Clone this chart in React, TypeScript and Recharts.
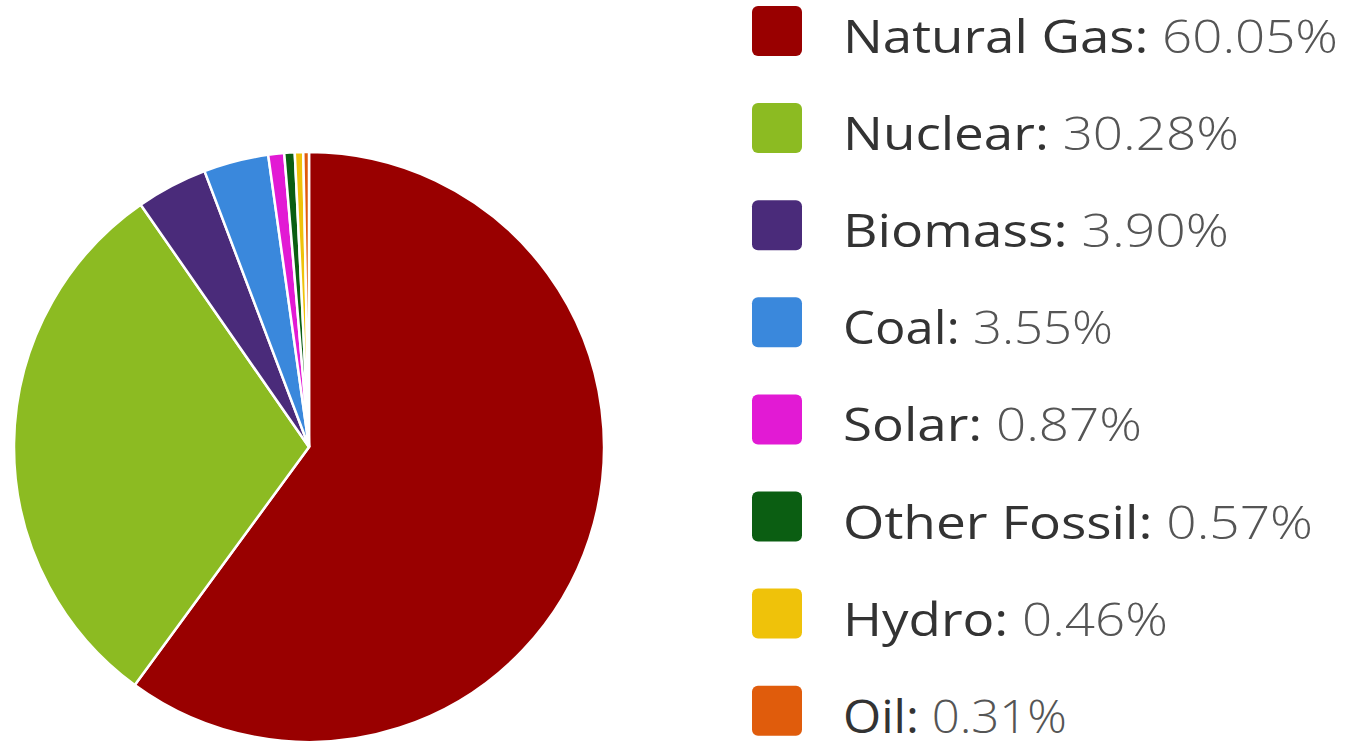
import React from "react";
import { PieChart, Pie, Cell, Legend } from "recharts";

const categories = ["Natural Gas", "Nuclear", "Biomass", "Coal", "Solar", "Other Fossil", "Hydro", "Oil"];
const shares = [60.05, 30.28, 3.9, 3.55, 0.87, 0.57, 0.46, 0.31];
const colors = ["#990000", "#8cbb22", "#4a2b7a", "#3a88dc", "#e21ad4", "#0b5e12", "#efc20a", "#e05c0c"];
const legendWidths = [495, 396, 386, 270, 299, 470, 325, 224];

const data = categories.map((name, i) => ({ name, value: shares[i] }));

const ROW_GAP = 97.1;
const FIRST_BASELINE = 53;

const LegendContent = () => (
  <svg width={610} height={745} style={{ display: "block" }}>
    {categories.map((name, i) => {
      const baseline = FIRST_BASELINE + i * ROW_GAP;
      return (
        <g key={name}>
          <rect x={12} y={baseline - 47} width={50} height={50} rx={6} ry={6} fill={colors[i]} />
          <text
            x={103}
            y={baseline}
            fontFamily="'Open Sans', sans-serif"
            fontSize={46}
            textLength={legendWidths[i]}
            lengthAdjust="spacingAndGlyphs"
          >
            <tspan fill="#333333" fontWeight={500}>{name}:</tspan>
            <tspan fill="#555555" fontWeight={300}>{" " + shares[i].toFixed(2) + "%"}</tspan>
          </text>
        </g>
      );
    })}
  </svg>
);

export default function App() {
  return (
    <div style={{ position: "absolute", left: 0, top: 0, width: 1350, height: 745, background: "#ffffff" }}>
      <PieChart width={1350} height={745} margin={{ top: 0, right: 0, bottom: 0, left: 0 }}>
        <Pie
          data={data}
          dataKey="value"
          nameKey="name"
          cx={309}
          cy={447}
          outerRadius={295}
          startAngle={90}
          endAngle={-270}
          stroke="#ffffff"
          strokeWidth={2.5}
          isAnimationActive={false}
        >
          {data.map((d, i) => (
            <Cell key={d.name} fill={colors[i]} />
          ))}
        </Pie>
        <Legend
          content={<LegendContent />}
          wrapperStyle={{ position: "absolute", left: 740, top: 0, width: 610, height: 745 }}
        />
      </PieChart>
    </div>
  );
}
